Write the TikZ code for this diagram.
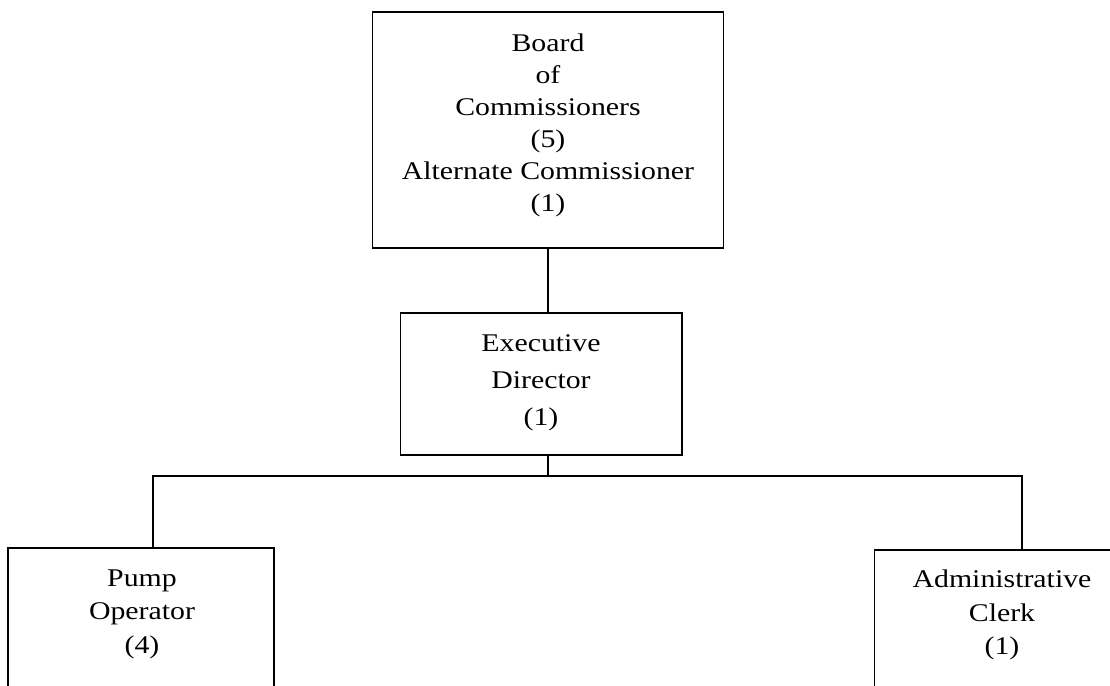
\documentclass[tikz,border=0pt]{standalone}
\usepackage{fontspec}
\setmainfont{Liberation Serif}[FakeStretch=1.17]
\begin{document}
\begin{tikzpicture}[x=0.02cm,y=-0.02cm,line width=0.6pt,
unit box/.style={draw,rectangle,align=center,inner sep=0pt},
unit text/.style={align=center,inner sep=0pt,font=\fontsize{14.5}{19}\selectfont}]
\useasboundingbox (0,0) rectangle (1110,686);
\clip (0,0) rectangle (1110,686);
\node[unit box,minimum width=7.02cm,minimum height=4.72cm] (board) at (548,130) {};
\node[unit box,minimum width=5.64cm,minimum height=2.84cm] (exec) at (541,384) {};
\node[unit box,minimum width=5.32cm,minimum height=3.04cm] (pump) at (141,624) {};
\node[unit box,minimum width=5.1cm,minimum height=3.04cm] (clerk) at (1002,626) {};
\node[unit text,font=\fontsize{14.5}{18.2}\selectfont] (boardt) at (548,125) {Board\\of\\Commissioners\\(5)\\Alternate Commissioner\\(1)};
\node[unit text,font=\fontsize{14.5}{21}\selectfont] (exect) at (541,383) {Executive\\Director\\(1)};
\node[unit text] (pumpt) at (142,614) {Pump\\Operator\\(4)};
\node[unit text] (clerkt) at (1002,615) {Administrative\\Clerk\\(1)};

\coordinate (busL) at (153,476);
\coordinate (busM) at (548,476);
\coordinate (busR) at (1022,476);
\draw (board.south -| busM) -- (exec.north -| busM);
\draw (exec.south -| busM) -- (busM);
\draw (pump.north -| busL) -- (busL) -- (busR) -- (clerk.north -| busR);
\end{tikzpicture}
\end{document}
